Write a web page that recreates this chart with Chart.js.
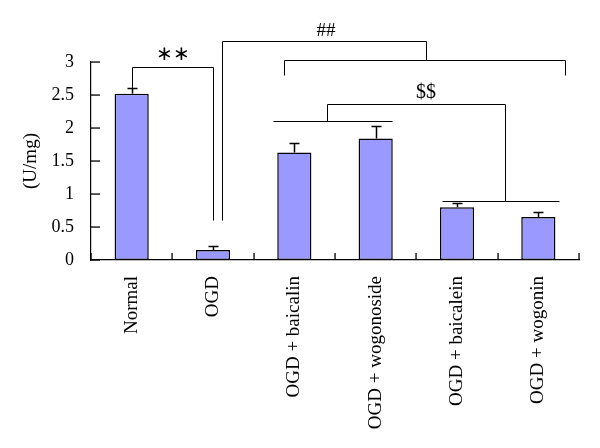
<!DOCTYPE html>
<html lang="en">
<head>
  <meta charset="UTF-8">
  <title>OGD enzyme activity</title>
  <script src="https://cdn.jsdelivr.net/npm/chart.js@4.4.1/dist/chart.umd.min.js"></script>
  <style>
    body { margin: 0; background: #fff; }
    #wrap { width: 600px; height: 448px; }
  </style>
</head>
<body>
<div id="wrap"><canvas id="chart"></canvas></div>

<script>
  // data
  const groups = ["Normal", "OGD", "OGD + baicalin", "OGD + wogonoside", "OGD + baicalein", "OGD + wogonin"];
  const activity = [2.52, 0.15, 1.63, 1.84, 0.80, 0.65];
  const errUp = [0.09, 0.06, 0.15, 0.19, 0.07, 0.07];
  const yTicks = [0, 0.5, 1, 1.5, 2, 2.5, 3];

  // significance brackets, in (category index, value) units
  const brackets = [
    [[0, 2.61], [0, 2.92], [1, 2.92], [1, 0.61]],
    [[1.11, 0.61], [1.11, 3.32], [3.62, 3.32], [3.62, 3.03]],
    [[1.87, 2.80], [1.87, 3.03], [5.33, 3.03], [5.33, 2.80]],
    [[1.74, 2.11], [3.2, 2.11]],
    [[2.4, 2.11], [2.4, 2.36], [4.59, 2.36], [4.59, 0.89]],
    [[3.81, 0.89], [5.26, 0.89]]
  ];
  const marks = [
    { text: "\u2217\u2217", x: 0.51, y: 3.11, size: 20 },
    { text: "##", x: 2.39, y: 3.47, size: 19 },
    { text: "$$", x: 3.62, y: 2.53, size: 20 }
  ];

  const serif = "'Liberation Serif', 'Times New Roman', serif";

  // inward ticks, error bars, brackets
  const extras = {
    id: 'extras',
    afterDraw(chart) {
      const ctx = chart.ctx, x = chart.scales.x, y = chart.scales.y;
      const left = x.left, bottom = y.bottom;
      ctx.save();
      ctx.fillStyle = '#000';
      yTicks.forEach(v => {
        const py = Math.round(y.getPixelForValue(v));
        ctx.fillRect(left, py - 0.6, 9, 1.3);
      });
      for (let i = 0; i <= groups.length; i++) {
        const px = Math.round(x.getPixelForValue(i - 0.5));
        ctx.fillRect(px - 0.6, bottom - 7, 1.3, 7);
      }

      ctx.strokeStyle = '#000';
      ctx.lineWidth = 1.5;
      activity.forEach((v, i) => {
        const px = Math.round(x.getPixelForValue(i)) + 0.5;
        const top = Math.round(y.getPixelForValue(v + errUp[i])) + 0.5;
        ctx.beginPath();
        ctx.moveTo(px, y.getPixelForValue(v));
        ctx.lineTo(px, top);
        ctx.moveTo(px - 5, top);
        ctx.lineTo(px + 5, top);
        ctx.stroke();
      });
      ctx.lineWidth = 1;
      brackets.forEach(pts => {
        ctx.beginPath();
        pts.forEach((p, k) => {
          const px = Math.round(x.getPixelForValue(p[0])) + 0.5;
          const py = Math.round(y.getPixelForValue(p[1])) + 0.5;
          if (k === 0) ctx.moveTo(px, py); else ctx.lineTo(px, py);
        });
        ctx.stroke();
      });
      ctx.textAlign = 'center';
      ctx.textBaseline = 'middle';
      marks.forEach(m => {
        ctx.font = m.size + "px " + serif;
        ctx.fillText(m.text, x.getPixelForValue(m.x), y.getPixelForValue(m.y));
      });
      ctx.restore();
    }
  };

  new Chart(document.getElementById("chart"), {
    type: 'bar',
    data: {
      labels: groups,
      datasets: [{
        data: activity,
        backgroundColor: "#9999ff",
        borderColor: "#000",
        borderWidth: 1.5,
        borderSkipped: false,
        categoryPercentage: 1,
        barPercentage: 0.42
      }]
    },
    options: {
      responsive: true,
      maintainAspectRatio: false,
      animation: false,
      layout: { padding: { left: 20, top: 62, right: 21, bottom: 0 } },
      plugins: { legend: { display: false }, tooltip: { enabled: false } },
      scales: {
        x: {
          grid: { display: false },
          border: { color: '#000', width: 1.2 },
          ticks: {
            color: '#000', font: { family: serif, size: 19 },
            minRotation: 90, maxRotation: 90, padding: 8, autoSkip: false
          },
          afterFit(s) { s.height = 188; }
        },
        y: {
          min: 0, max: 3,
          afterBuildTicks(s) { s.ticks = yTicks.map(v => ({ value: v })); },
          grid: { display: false },
          border: { color: '#000', width: 1.2 },
          ticks: { color: '#000', font: { family: serif, size: 18 }, padding: 9, callback: v => String(v) },
          title: { display: true, text: "(U/mg)", color: '#000', font: { family: serif, size: 19 }, padding: 0 },
          afterFit(s) { s.width = 71; }
        }
      }
    },
    plugins: [extras]
  });
</script>
</body>
</html>
